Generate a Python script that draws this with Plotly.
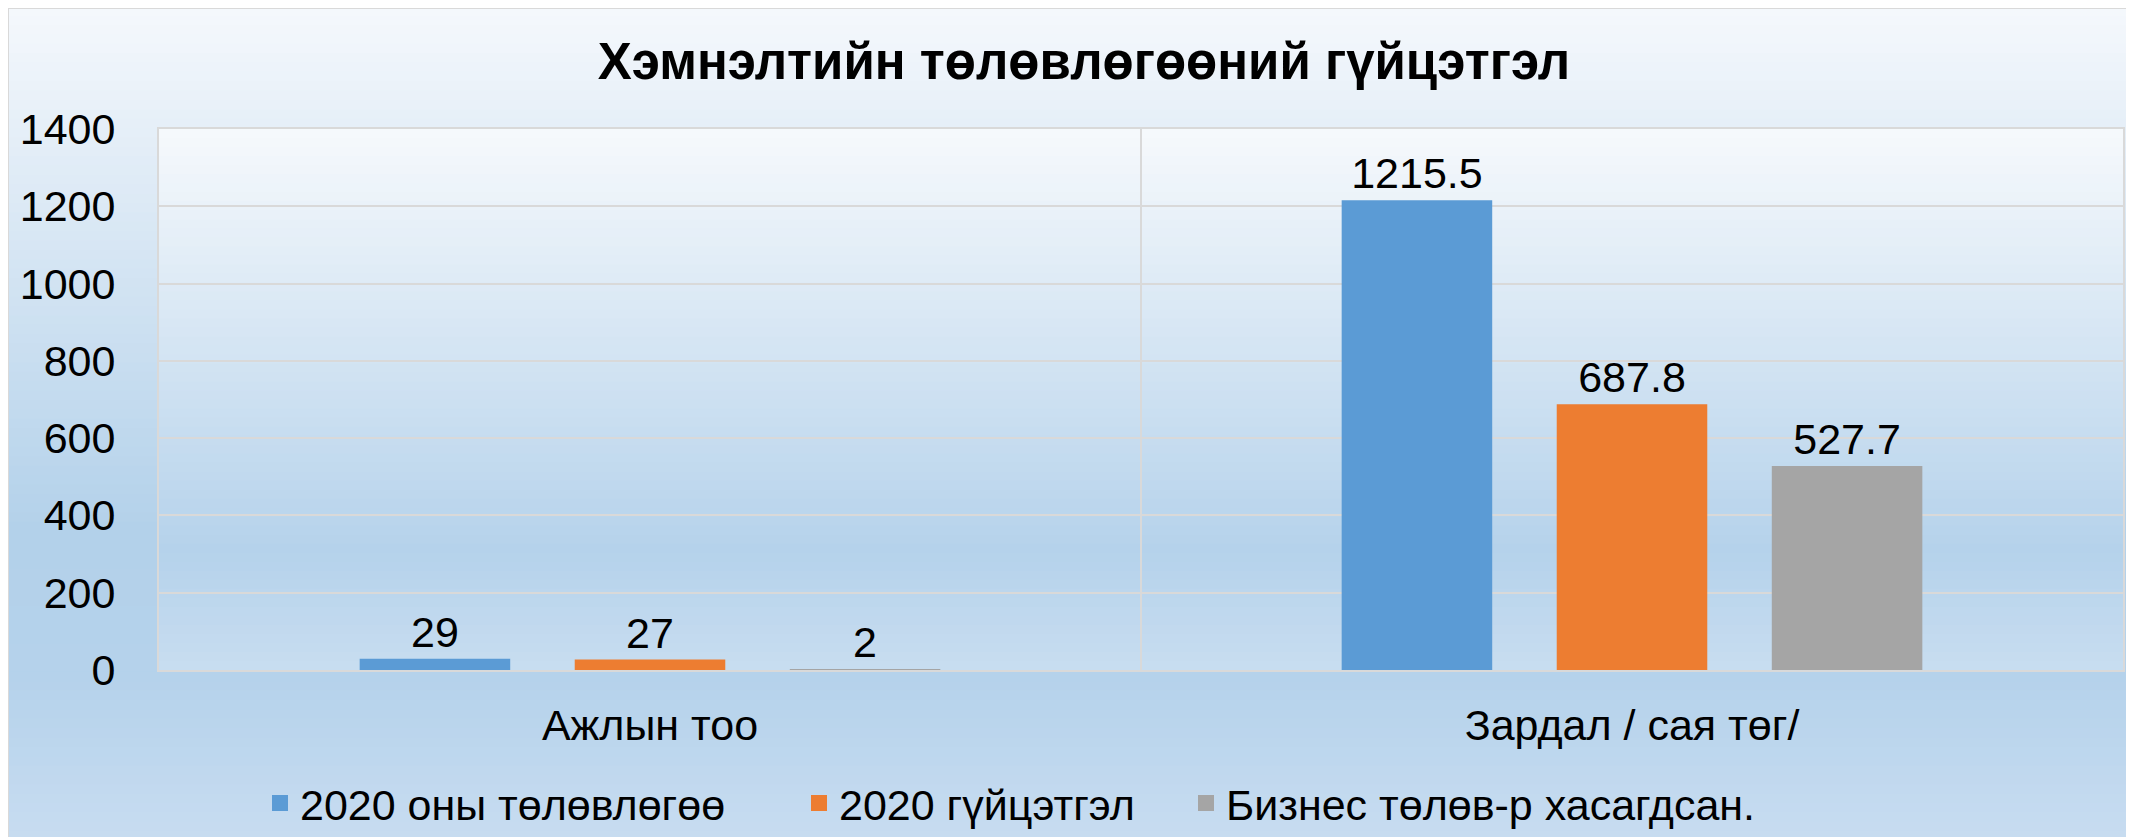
import plotly.graph_objects as go

# ── Data ─────────────────────────────────────────────────────────────────────
categories = ["Ажлын тоо", "Зардал / сая төг/"]
series_names = ["2020 оны төлөвлөгөө", "2020 гүйцэтгэл", "Бизнес төлөв-р хасагдсан."]
plan_2020 = [29, 1215.5]
actual_2020 = [27, 687.8]
business_cut = [2, 527.7]

title_text = "Хэмнэлтийн төлөвлөгөөний гүйцэтгэл"
y_ticks = [0, 200, 400, 600, 800, 1000, 1200, 1400]

COLORS = ["#5B9BD5", "#ED7D31", "#A5A5A5"]
FONT = "'Liberation Sans', Arial, sans-serif"
FS = 43

# ── Canvas geometry (pixels, figure coords; page adds an 8px body margin) ──
W, H = 2134, 837
L, R, T, B = 151, 2115, 121, 662   # plot area edges
PW, PH = R - L, B - T
LEGEND_Y = 795
LEGEND_X = [272, 811, 1198]        # swatch centres


def px_x(p):
    return (p - L) / PW


def px_y(p):
    return (B - p) / PH


def hex_rgb(h):
    h = h.lstrip("#")
    return tuple(int(h[i:i + 2], 16) for i in (0, 2, 4))


def grad_color(stops, t):
    for (t0, c0), (t1, c1) in zip(stops, stops[1:]):
        if t0 <= t <= t1:
            f = (t - t0) / (t1 - t0) if t1 > t0 else 0
            a, b = hex_rgb(c0), hex_rgb(c1)
            return "rgb(%d,%d,%d)" % tuple(round(a[i] + (b[i] - a[i]) * f) for i in range(3))
    return stops[-1][1]


def gradient_shapes(x0, x1, y0, y1, stops, n=90):
    out = []
    step = (y1 - y0) / n
    for i in range(n):
        ya = y0 + i * step
        yb = ya + step + 1
        out.append(dict(
            type="rect", xref="paper", yref="paper", layer="below",
            x0=px_x(x0), x1=px_x(x1), y0=px_y(ya), y1=px_y(min(yb, y1)),
            fillcolor=grad_color(stops, (i + 0.5) / n), line_width=0,
        ))
    return out


chart_stops = [(0, "#F5F8FC"), (0.62, "#B3D1EA"), (0.8, "#B5D2EB"), (1.0, "#C9DDF1")]
plot_stops = [(0, "#F6F9FC"), (0.78, "#B5D2EB"), (1.0, "#C8DDF0")]

shapes = gradient_shapes(-2, W + 5, -2, H + 5, chart_stops)
shapes += gradient_shapes(L, R, T, B, plot_stops, n=60)
# chart border
shapes.append(dict(type="rect", xref="paper", yref="paper", layer="below",
                   x0=px_x(0), x1=px_x(W + 5), y0=px_y(0), y1=px_y(H + 5),
                   line=dict(color="#D9D9D9", width=2), fillcolor="rgba(0,0,0,0)"))

# ── Figure ──────────────────────────────────────────────────────────────────
fig = go.Figure()
for name, vals, col in zip(series_names, [plan_2020, actual_2020, business_cut], COLORS):
    fig.add_trace(go.Bar(
        x=categories, y=vals, name=name, showlegend=False,
        marker=dict(color=col, line=dict(width=0)),
        text=[f"{v:g}" for v in vals],
        textposition="outside",
        textfont=dict(size=FS, color="#000000", family=FONT),
        cliponaxis=False,
    ))

# legend entries: one legend per item so each can sit where the original has it
legend_cfg = {}
for i, (name, col, cx) in enumerate(zip(series_names, COLORS, LEGEND_X)):
    key = "legend" if i == 0 else f"legend{i + 1}"
    fig.add_trace(go.Scatter(
        x=[None], y=[None], mode="markers", name=name, legend=key,
        marker=dict(symbol="square", size=18, color=col),
    ))
    legend_cfg[key] = dict(
        orientation="h", x=px_x(cx - 20), xanchor="left",
        y=px_y(LEGEND_Y), yanchor="middle",
        font=dict(size=FS, family=FONT, color="#000000"),
        bgcolor="rgba(0,0,0,0)", borderwidth=0,
        itemsizing="trace", itemwidth=30,
    )

fig.update_layout(
    width=W, height=H,
    margin=dict(l=L, r=W - R, t=T, b=H - B, pad=0, autoexpand=False),
    paper_bgcolor="#C9DDF1",
    plot_bgcolor="rgba(0,0,0,0)",
    font=dict(family=FONT, size=FS, color="#000000"),
    title=dict(text=f"<b>{title_text}</b>", x=1076 / W, xref="container", xanchor="center",
               y=1 - 53 / H, yref="container", yanchor="middle",
               font=dict(size=51, family=FONT, color="#000000")),
    barmode="group",
    bargap=0.343,
    bargroupgap=0.30,
    shapes=shapes,
    showlegend=True,
    **legend_cfg,
)

fig.update_xaxes(
    type="category", tickson="boundaries", automargin=False,
    showgrid=True, gridcolor="#D9D9D9", gridwidth=2,
    showline=True, linecolor="#D9D9D9", linewidth=2, mirror=True,
    ticks="", ticklabelstandoff=16,
    tickfont=dict(size=FS, family=FONT, color="#000000"),
)
fig.update_yaxes(
    range=[0, 1400], tickvals=y_ticks, automargin=False,
    showgrid=True, gridcolor="#D9D9D9", gridwidth=2,
    showline=True, linecolor="#D9D9D9", linewidth=2, mirror=True,
    zeroline=False, ticks="", ticklabelstandoff=33,
    tickfont=dict(size=FS, family=FONT, color="#000000"),
)

fig.write_html("out.html")
